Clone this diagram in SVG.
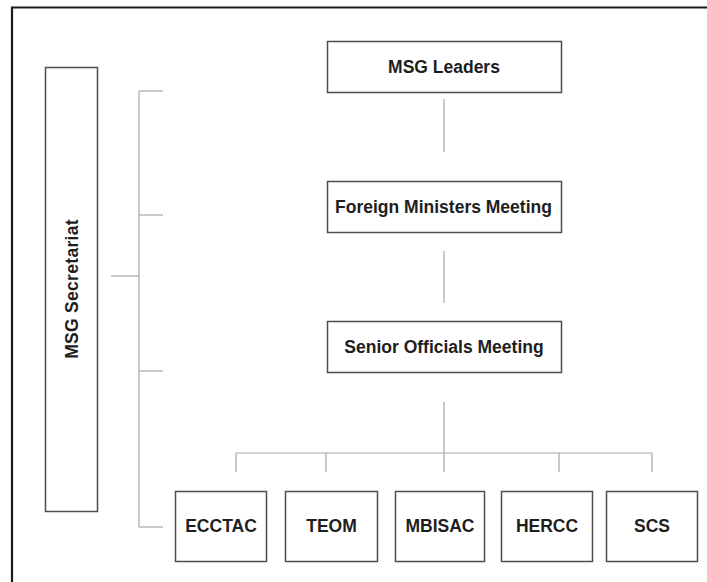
<svg xmlns="http://www.w3.org/2000/svg" width="707" height="582" viewBox="0 0 707 582">
  <style>
    .frame { fill: none; stroke: #1a1a1a; stroke-width: 2.2; }
    .box { fill: #ffffff; stroke: #4d4d4d; stroke-width: 1.5; }
    .lbl { font-family: "Liberation Sans", Arial, sans-serif; font-weight: bold; font-size: 17.5px; fill: #1e1e1e; text-anchor: middle; }
    .vert { letter-spacing: 0.3px; }
    .link { fill: none; stroke: #a6a6a6; stroke-width: 1.2; }
  </style>
  <rect width="707" height="582" fill="#ffffff"/>
  <!-- page frame: top and left edges -->
  <path class="frame" d="M12,582 V7.5 H707"/>

  <g id="connectors">
    <!-- hierarchy trunk -->
    <line class="link" x1="444" y1="99" x2="444" y2="152"/>
    <line class="link" x1="444" y1="251" x2="444" y2="303"/>
    <line class="link" x1="444" y1="402" x2="444" y2="472"/>
    <!-- committee bus -->
    <line class="link" x1="236" y1="453" x2="652" y2="453"/>
    <line class="link" x1="236" y1="453" x2="236" y2="472"/>
    <line class="link" x1="326" y1="453" x2="326" y2="472"/>
    <line class="link" x1="559" y1="453" x2="559" y2="472"/>
    <line class="link" x1="652" y1="453" x2="652" y2="472"/>
    <!-- secretariat bracket -->
    <line class="link" x1="111" y1="276" x2="139" y2="276"/>
    <line class="link" x1="139" y1="91" x2="139" y2="527"/>
    <line class="link" x1="139" y1="91" x2="163" y2="91"/>
    <line class="link" x1="139" y1="215" x2="163" y2="215"/>
    <line class="link" x1="139" y1="371" x2="163" y2="371"/>
    <line class="link" x1="139" y1="527" x2="163" y2="527"/>
  </g>

  <g id="secretariat">
    <rect class="box" x="45.5" y="67.5" width="52" height="444"/>
    <text class="lbl vert" transform="translate(78,289) rotate(-90)">MSG Secretariat</text>
  </g>

  <g id="leaders">
    <rect class="box" x="327.5" y="41.5" width="234" height="51"/>
    <text class="lbl" x="444" y="73">MSG Leaders</text>
  </g>

  <g id="foreign-ministers">
    <rect class="box" x="327.5" y="181.5" width="234" height="51"/>
    <text class="lbl" x="443.5" y="212.5">Foreign Ministers Meeting</text>
  </g>

  <g id="senior-officials">
    <rect class="box" x="327.5" y="321.5" width="234" height="51"/>
    <text class="lbl" x="444" y="352.5">Senior Officials Meeting</text>
  </g>

  <g id="ecctac">
    <rect class="box" x="175.5" y="491.5" width="91" height="70"/>
    <text class="lbl" x="221" y="532">ECCTAC</text>
  </g>

  <g id="teom">
    <rect class="box" x="285.5" y="491.5" width="92" height="70"/>
    <text class="lbl" x="331.5" y="532">TEOM</text>
  </g>

  <g id="mbisac">
    <rect class="box" x="395.5" y="491.5" width="89" height="70"/>
    <text class="lbl" x="440" y="532">MBISAC</text>
  </g>

  <g id="hercc">
    <rect class="box" x="501.5" y="491.5" width="91" height="70"/>
    <text class="lbl" x="547" y="532">HERCC</text>
  </g>

  <g id="scs">
    <rect class="box" x="606.5" y="491.5" width="91" height="70"/>
    <text class="lbl" x="652" y="532">SCS</text>
  </g>
</svg>
